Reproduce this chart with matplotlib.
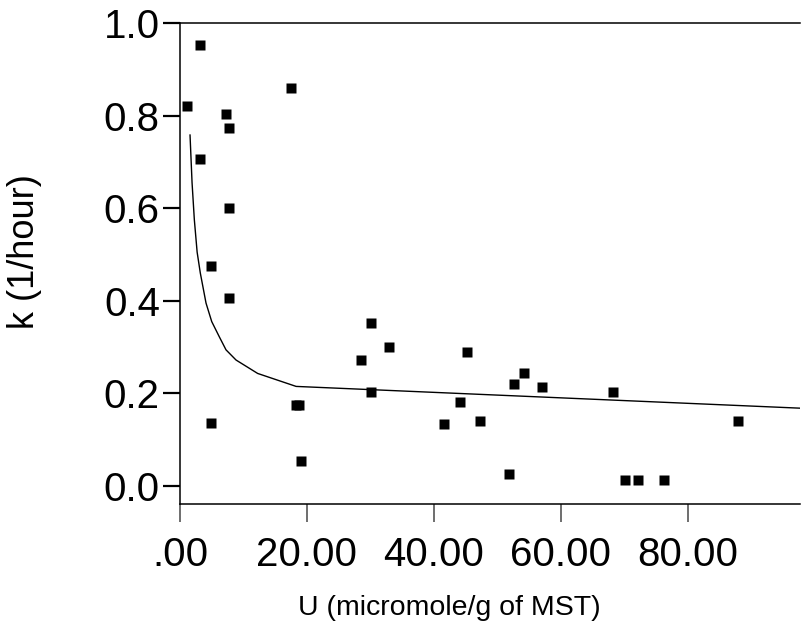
import matplotlib.pyplot as plt

# scatter data
u_vals = [1.15, 3.15, 3.15, 4.89, 4.89, 7.25, 7.67, 7.67, 7.67, 17.5,
          18.3, 18.7, 19.1, 28.5, 30.1, 30.1, 33.0, 41.6, 44.1, 45.2,
          47.2, 51.8, 52.6, 54.2, 57.1, 68.2, 70.2, 72.2, 76.3, 88.0]
k_vals = [0.820, 0.952, 0.706, 0.475, 0.135, 0.803, 0.774, 0.601, 0.405, 0.860,
          0.175, 0.175, 0.054, 0.272, 0.353, 0.204, 0.301, 0.134, 0.181, 0.289,
          0.140, 0.025, 0.220, 0.243, 0.214, 0.203, 0.012, 0.012, 0.012, 0.140]

# fitted curve
fit_u = [1.58, 1.9, 2.26, 2.7, 3.2, 4.1, 5.0, 6.2, 7.25, 8.83, 12.24, 18.3, 97.7]
fit_k = [0.758, 0.655, 0.575, 0.505, 0.46, 0.395, 0.355, 0.322, 0.294, 0.272,
         0.243, 0.215, 0.168]

x_ticks = [0, 20, 40, 60, 80]
x_tick_labels = ['.00', '20.00', '40.00', '60.00', '80.00']
y_ticks = [0.0, 0.2, 0.4, 0.6, 0.8, 1.0]
y_tick_labels = ['0.0', '0.2', '0.4', '0.6', '0.8', '1.0']

plt.rcParams['font.family'] = ['Liberation Sans', 'DejaVu Sans']

fig = plt.figure(figsize=(8.01, 6.4), dpi=100)
ax = fig.add_axes([180 / 801, 136 / 640, 620 / 801, 481 / 640])

ax.plot(fit_u, fit_k, color='black', lw=1.0)
ax.plot(u_vals, k_vals, ls='none', marker='s', ms=7.2, mec='none',
        color='black')

ax.set_xlim(0, 97.7)
ax.set_ylim(-0.039, 1.0)

ax.set_xticks(x_ticks)
ax.set_xticklabels(x_tick_labels)
ax.set_yticks(y_ticks)
ax.set_yticklabels(y_tick_labels)

ax.spines['right'].set_visible(False)
for s in ('left', 'bottom', 'top'):
    ax.spines[s].set_linewidth(1.1)

ax.tick_params(axis='y', direction='out', length=12.5, width=1.6,
               labelsize=29, pad=2)
ax.tick_params(axis='x', direction='out', length=13, width=1.2,
               color='#555555', labelsize=29, pad=10)

ax.set_xlabel('U (micromole/g of MST)', fontsize=20.5)
ax.xaxis.set_label_coords(0.434, -0.19)
ax.set_ylabel('k (1/hour)', fontsize=26)
ax.yaxis.set_label_coords(-0.223, 0.524)

fig.savefig('out.png', dpi=100)
